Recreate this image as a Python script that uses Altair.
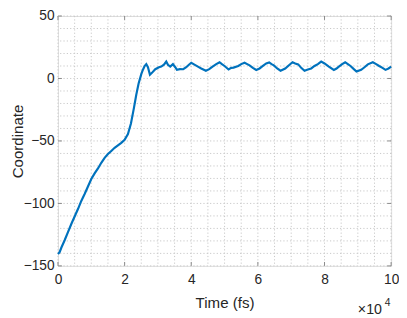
import altair as alt
import pandas as pd

# Time in fs (axis shows ×10^4)
time_fs = [0, 500, 1000, 2000, 3000, 4000, 5000, 6000, 7000, 8000, 9000, 10000,
           11000, 12000, 13000, 14000, 15000, 16000, 17000, 18000, 19000, 20000,
           21000, 21900, 22800, 23500, 24200, 25000, 25500, 26000, 26500, 27000,
           27600, 28200, 29200, 30300, 31000, 31800, 32500, 33000, 33700, 34500,
           35200, 35700, 36600, 37600, 38500, 39300, 40000, 40700, 42000, 43000,
           44400, 45400, 46400, 47500, 48500, 49200, 50000, 51200, 52000, 52700,
           54100, 55000, 56000, 56800, 57500, 58500, 59500, 60500, 61500, 62500,
           63400, 64100, 64800, 65800, 66800, 68200, 69500, 70400, 71200, 72100,
           73000, 74000, 75000, 76000, 77000, 78000, 79000, 80000, 81300, 82800,
           83600, 84300, 85300, 86200, 87000, 87800, 88800, 89600, 91000, 92000,
           93000, 94500, 95500, 96400, 97400, 98300, 99200, 100000]
coordinate = [-140.5, -139, -135.5, -129.5, -123, -116.5, -110.5, -104.5, -98, -92.5, -86.5, -80.5,
              -76, -72, -67.5, -63.5, -60.5, -58, -55.5, -53.5, -51.5, -49,
              -44.5, -36, -23.5, -13, -4, 3.5, 7, 10, 11.5, 9,
              3, 4.5, 7.4, 9, 9.5, 11, 13.5, 11, 9.5, 11.5,
              9, 7, 7.5, 7.4, 9, 11, 12.6, 11.5, 9.5, 8,
              6.2, 7.5, 9.5, 11.5, 13, 11.5, 10, 7.2, 8.5, 8.7,
              10, 11.5, 12.6, 11.5, 10.5, 8.5, 6.8, 8, 10, 12,
              12.8, 11.5, 10.5, 8, 6.2, 8, 11, 13, 12, 11.3,
              8.5, 6.2, 7.2, 8, 10, 11.5, 13.5, 12, 9.5, 6.8,
              8, 9.5, 11.5, 13, 11.5, 10, 7.5, 5.6, 6.9, 9,
              11.3, 13, 11.5, 10, 8.5, 6.9, 8, 9.5]

x_major = [0, 20000, 40000, 60000, 80000, 100000]
y_major = [-150, -100, -50, 0, 50]
x_minor = [0, 5000, 10000, 15000, 20000, 25000, 30000, 35000, 40000, 45000, 50000,
           55000, 60000, 65000, 70000, 75000, 80000, 85000, 90000, 95000, 100000]
y_minor = [-150, -140, -130, -120, -110, -100, -90, -80, -70, -60, -50, -40, -30,
           -20, -10, 0, 10, 20, 30, 40, 50]

W, H = 340, 255
TOP = 5
LEFT = 51
FONT = "Liberation Sans"
AX = "#8a8a8a"
TXT = "#262626"

df = pd.DataFrame({"t": time_fs, "c": coordinate})
xs = alt.Scale(domain=[0, 100000], nice=False)
ys = alt.Scale(domain=[-150, 50], nice=False)

axis_holder = alt.Chart(df).mark_line(opacity=0).encode(
    x=alt.X("t:Q", scale=xs, title="Time (fs)",
            axis=alt.Axis(values=x_major, labelExpr="datum.value / 10000",
                          grid=False, ticks=False, domain=False,
                          labelFont=FONT, labelFontSize=14, labelColor=TXT,
                          labelPadding=7, titleFont=FONT, titleFontSize=15.4,
                          titleFontWeight="normal", titleColor=TXT, titlePadding=9,
                          labelFlush=False)),
    y=alt.Y("c:Q", scale=ys, title="Coordinate",
            axis=alt.Axis(values=y_major, grid=False, ticks=False, domain=False,
                          labelFont=FONT, labelFontSize=14, labelColor=TXT,
                          labelPadding=4, titleFont=FONT, titleFontSize=15.4,
                          titleFontWeight="normal", titleColor=TXT, titlePadding=1,
                          titleBaseline="alphabetic", labelFlush=False)),
)

line = alt.Chart(df).mark_line(color="#0072BD", strokeWidth=2.2).encode(
    x=alt.X("t:Q", scale=xs), y=alt.Y("c:Q", scale=ys))

gx = pd.DataFrame({"t": x_minor})
gy = pd.DataFrame({"c": y_minor})
xgrid = alt.Chart(gx).mark_rule(
    color="#c8c8c8", strokeWidth=1, strokeDash=[1.2, 2.2]
).encode(x=alt.X("t:Q", scale=xs))
ygrid = alt.Chart(gy).mark_rule(
    color="#c8c8c8", strokeWidth=1, strokeDash=[1.2, 2.2]
).encode(y=alt.Y("c:Q", scale=ys))

xt = pd.DataFrame({"t": x_major})
yt = pd.DataFrame({"c": y_major})
tick_style = dict(color=AX, strokeWidth=1)
xtick_b = alt.Chart(xt).mark_rule(**tick_style).encode(
    x=alt.X("t:Q", scale=xs), y=alt.value(H), y2=alt.value(H - 4))
xtick_t = alt.Chart(xt).mark_rule(**tick_style).encode(
    x=alt.X("t:Q", scale=xs), y=alt.value(0), y2=alt.value(4))
ytick_l = alt.Chart(yt).mark_rule(**tick_style).encode(
    y=alt.Y("c:Q", scale=ys), x=alt.value(0), x2=alt.value(4))
ytick_r = alt.Chart(yt).mark_rule(**tick_style).encode(
    y=alt.Y("c:Q", scale=ys), x=alt.value(W), x2=alt.value(W - 4))

mult = alt.Chart(pd.DataFrame({"s": ["×10"]})).mark_text(
    font=FONT, fontSize=14.5, color=TXT, align="left", baseline="alphabetic"
).encode(x=alt.value(306), y=alt.value(304), text="s:N")
expo = alt.Chart(pd.DataFrame({"s": ["4"]})).mark_text(
    font=FONT, fontSize=10.5, color=TXT, align="left", baseline="alphabetic"
).encode(x=alt.value(333.5), y=alt.value(296), text="s:N")

chart = alt.layer(axis_holder, xgrid, ygrid, line, xtick_b, xtick_t, ytick_l, ytick_r, mult, expo).properties(
    width=W, height=H,
    padding={"left": LEFT, "top": TOP, "right": 8, "bottom": 50},
    autosize=alt.AutoSizeParams(type="none"),
).configure_view(stroke=AX, strokeWidth=1).configure(background="white")

chart.save("out.html", embed_options={"renderer": "svg", "actions": False})
